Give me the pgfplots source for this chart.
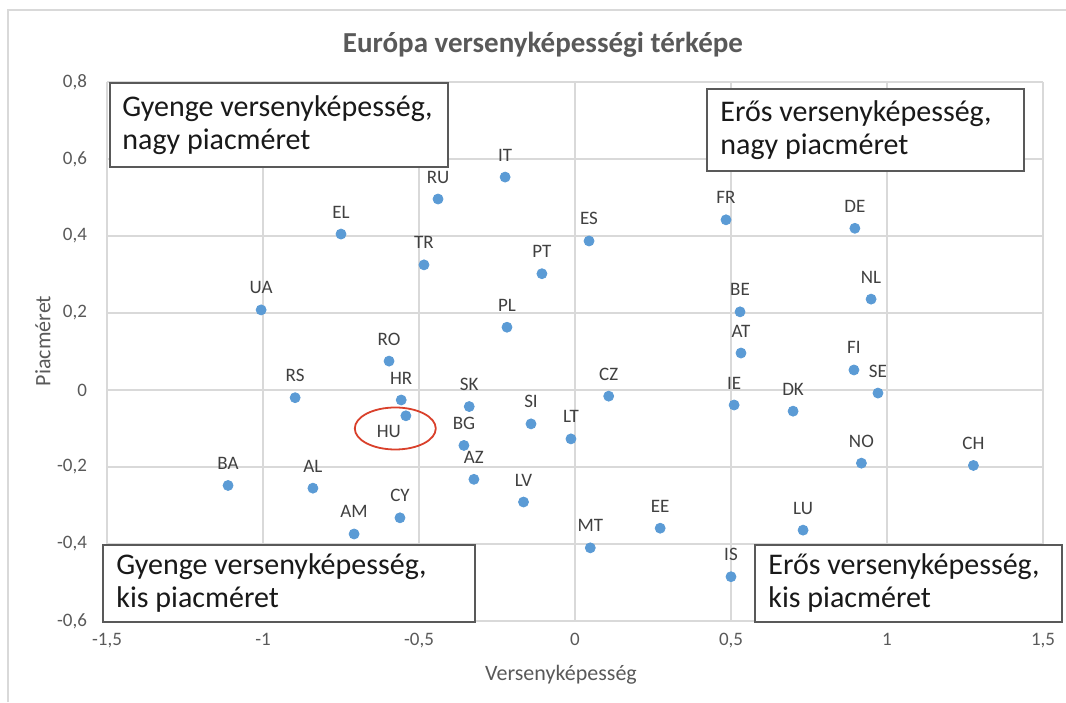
\documentclass[border=0pt]{standalone}
\usepackage{pgfplots}
\pgfplotsset{compat=1.18}
\usepackage{pgfplotstable}
\usepackage{fontspec}
\setmainfont{Carlito}
\definecolor{ptblue}{HTML}{5B9BD5}
\definecolor{txtgray}{HTML}{595959}
\definecolor{lblgray}{HTML}{404040}
\definecolor{gridgray}{HTML}{D9D9D9}
\definecolor{hured}{HTML}{D9402B}
\definecolor{boxgray}{HTML}{595959}

\pgfplotstableread{
x y label
-0.224 0.553 IT
-0.439 0.496 RU
-0.750 0.405 EL
-0.484 0.325 TR
0.045 0.387 ES
-0.106 0.302 PT
0.484 0.442 FR
0.897 0.420 DE
0.949 0.236 NL
0.529 0.203 BE
-1.006 0.208 UA
-0.218 0.163 PL
0.532 0.096 AT
0.894 0.052 FI
0.971 -0.008 SE
-0.596 0.075 RO
-0.897 -0.020 RS
-0.557 -0.026 HR
-0.339 -0.043 SK
0.108 -0.016 CZ
0.510 -0.039 IE
0.699 -0.055 DK
-0.141 -0.088 SI
-0.013 -0.127 LT
-0.356 -0.144 BG
-0.324 -0.232 AZ
0.918 -0.190 NO
1.277 -0.196 CH
-1.112 -0.248 BA
-0.840 -0.255 AL
-0.165 -0.291 LV
-0.561 -0.332 CY
0.273 -0.359 EE
0.731 -0.364 LU
-0.708 -0.374 AM
0.049 -0.410 MT
0.500 -0.485 IS
}\datatable

\pgfplotstableread{
x y label
-0.542 -0.067 HU
}\hutable

\begin{document}
\begin{tikzpicture}
\useasboundingbox (-53.5pt,-40.5pt) rectangle (479.5pt,310.5pt);
\draw[gridgray, line width=1pt] (-49.5pt,-40.5pt) -- (-49.5pt,305.5pt) -- (479.5pt,305.5pt);
\begin{axis}[
  at={(0pt,0pt)}, anchor=south west,
  scale only axis, width=468pt, height=269.5pt,
  xmin=-1.5, xmax=1.5, ymin=-0.6, ymax=0.8,
  xtick={-1.5,-1,-0.5,0,0.5,1,1.5},
  xticklabels={{-1,5},{-1},{-0,5},{0},{0,5},{1},{1,5}},
  ytick={-0.6,-0.4,-0.2,0,0.2,0.4,0.6,0.8},
  yticklabels={{-0,6},{-0,4},{-0,2},{0},{0,2},{0,4},{0,6},{0,8}},
  grid=major, grid style={gridgray, line width=0.6pt},
  axis line style={draw=none},
  major tick length=0pt,
  tick label style={font=\fontsize{9.5}{10}\selectfont, text=txtgray},
  yticklabel style={xshift=-6.5pt},
  xticklabel style={yshift=-2.5pt},
  clip=false,
]
\addplot[only marks, mark=*, mark size=2.5pt, mark options={fill=ptblue, draw=ptblue},
  nodes near coords, point meta=explicit symbolic,
  every node near coord/.style={anchor=base, yshift=8pt, inner sep=0pt, font=\fontsize{9.5}{11}\selectfont, text=lblgray}]
  table[x=x, y=y, meta=label] {\datatable};
\addplot[only marks, mark=*, mark size=2.5pt, mark options={fill=ptblue, draw=ptblue},
  nodes near coords, point meta=explicit symbolic,
  every node near coord/.style={anchor=center, xshift=-8.5pt, yshift=-7.75pt, inner sep=0pt, font=\fontsize{9.5}{11}\selectfont, text=lblgray}]
  table[x=x, y=y, meta=label] {\hutable};
\draw[hured, line width=0.9pt] (axis cs:-0.576,-0.1) ellipse [x radius=20.25pt, y radius=10.5pt];
\end{axis}
% quadrant boxes
\draw[boxgray, line width=0.8pt, fill=white] (1.5pt,227pt) rectangle (170.5pt,269pt);
\node[anchor=west, align=left, inner sep=0pt, font=\fontsize{15}{16.5}\selectfont, text=black!90] at (7.5pt,248pt) {Gyenge versenyképesség,\\nagy piacméret};
\draw[boxgray, line width=0.8pt, fill=white] (300pt,225pt) rectangle (458.5pt,266pt);
\node[anchor=west, align=left, inner sep=0pt, font=\fontsize{15}{16.5}\selectfont, text=black!90] at (306.5pt,245.5pt) {Erős versenyképesség,\\nagy piacméret};
\draw[boxgray, line width=0.8pt, fill=white] (-2pt,-0.5pt) rectangle (184pt,38pt);
\node[anchor=west, align=left, inner sep=0pt, font=\fontsize{15}{16.5}\selectfont, text=black!90] at (4.5pt,18.75pt) {Gyenge versenyképesség,\\kis piacméret};
\draw[boxgray, line width=0.8pt, fill=white] (324pt,-0.5pt) rectangle (477.5pt,38pt);
\node[anchor=west, align=left, inner sep=0pt, font=\fontsize{15}{16.5}\selectfont, text=black!90] at (330.5pt,18.75pt) {Erős versenyképesség,\\kis piacméret};
% titles
\node[font=\fontsize{14.5}{17}\selectfont\bfseries, text=txtgray] at (218pt,288pt) {Európa versenyképességi térképe};
\node[font=\fontsize{11}{12}\selectfont, text=txtgray] at (227pt,-27pt) {Versenyképesség};
\node[font=\fontsize{11}{12}\selectfont, text=txtgray, rotate=90] at (-32pt,140pt) {Piacméret};
\end{tikzpicture}
\end{document}
